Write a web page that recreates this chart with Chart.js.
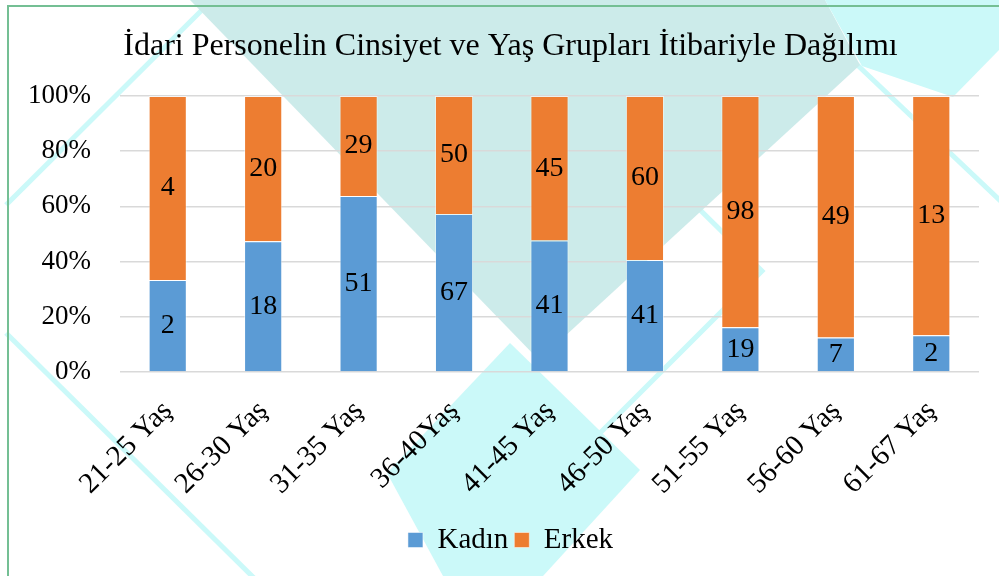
<!DOCTYPE html>
<html><head><meta charset="utf-8">
<script src="https://cdn.jsdelivr.net/npm/chart.js@4"></script>
<style>html,body{margin:0;padding:0;background:#fff}canvas{display:block}</style>
</head><body>
<canvas id="c" width="999" height="576"></canvas>
<script>
const categories = ['21-25 Yaş','26-30 Yaş','31-35 Yaş','36-40Yaş','41-45 Yaş','46-50 Yaş','51-55 Yaş','56-60 Yaş','61-67 Yaş'];
const kadin = [2,18,51,67,41,41,19,7,2];
const erkek = [4,20,29,50,45,60,98,49,13];
const yTicks = [0,20,40,60,80,100];
const seriesNames = ['Kadın','Erkek'];
const titleText = 'İdari Personelin Cinsiyet ve Yaş Grupları İtibariyle Dağılımı';

const FONT = "'Liberation Serif', 'Times New Roman', serif";
const counts = [kadin, erkek];
const pct = counts.map(arr => arr.map((v,i) => v / (kadin[i] + erkek[i]) * 100));

function poly(ctx, pts){ ctx.beginPath(); ctx.moveTo(pts[0][0],pts[0][1]); for(let i=1;i<pts.length;i++) ctx.lineTo(pts[i][0],pts[i][1]); ctx.closePath(); ctx.fill(); }
function seg(ctx, pts){ ctx.beginPath(); ctx.moveTo(pts[0][0],pts[0][1]); for(let i=1;i<pts.length;i++) ctx.lineTo(pts[i][0],pts[i][1]); ctx.stroke(); }

const bgDecor = {
  id:'bgDecor',
  afterLayout(chart){
    // let the y tick labels extend into the left padding without being clipped
    chart.scales.y.left = 0;
  },
  beforeDraw(chart){
    const ctx = chart.ctx;
    const cyan = '#cbf9f9', teal = '#ccebea';
    ctx.save();
    ctx.fillStyle = '#ffffff'; ctx.fillRect(0,0,chart.width,chart.height);
    ctx.strokeStyle = cyan; ctx.lineWidth = 5; ctx.lineCap = 'butt';
    seg(ctx, [[6,205],[210,2]]);
    seg(ctx, [[6,333],[258,582]]);
    seg(ctx, [[690,200],[762,271],[588,445]]);
    seg(ctx, [[850,58],[1010,210]]);
    ctx.fillStyle = cyan;
    poly(ctx, [[387,473],[510,343],[640,470],[543,576],[443,576]]);
    ctx.fillStyle = teal;
    poly(ctx, [[190,0],[825,0],[860,65],[539,360]]);
    ctx.fillStyle = cyan;
    poly(ctx, [[825,0],[999,0],[999,50],[953,97],[862,66]]);
    ctx.strokeStyle = '#74bf94'; ctx.lineWidth = 2;
    seg(ctx, [[8,576],[8,6],[999,6]]);
    ctx.restore();
  }
};

const valueLabels = {
  id:'valueLabels',
  afterDatasetsDraw(chart){
    const ctx = chart.ctx;
    ctx.save();
    ctx.font = '28px ' + FONT;
    ctx.fillStyle = '#000';
    ctx.textAlign = 'center';
    ctx.textBaseline = 'middle';
    chart.data.datasets.forEach((ds, di) => {
      const meta = chart.getDatasetMeta(di);
      meta.data.forEach((el, i) => {
        const y = (el.y + el.base) / 2;
        ctx.fillText(String(counts[di][i]), el.x, y);
      });
    });
    ctx.restore();
  }
};

new Chart(document.getElementById('c'), {
  type:'bar',
  data:{
    labels: categories,
    datasets:[
      {label: seriesNames[0], data: pct[0], backgroundColor:'#5b9bd5', borderColor:'rgba(255,255,255,0.5)', borderWidth:1, categoryPercentage:1, barPercentage:0.4},
      {label: seriesNames[1], data: pct[1], backgroundColor:'#ed7d31', borderColor:'rgba(255,255,255,0.5)', borderWidth:1, categoryPercentage:1, barPercentage:0.4}
    ]
  },
  options:{
    responsive:false,
    animation:false,
    devicePixelRatio:1,
    layout:{padding:{top:27,left:42,right:20,bottom:11.5}},
    plugins:{
      title:{display:true, text:titleText, color:'#000', font:{family:FONT, size:32, weight:'normal'}, padding:{top:0,bottom:30.6}},
      legend:{display:true, position:'bottom', labels:{color:'#000', font:{family:FONT, size:29}, boxWidth:15, boxHeight:15, padding:6}},
      tooltip:{enabled:false}
    },
    scales:{
      x:{
        stacked:true,
        grid:{display:false, drawTicks:false},
        border:{display:false},
        ticks:{color:'#000', font:{family:FONT, size:29}, minRotation:45, maxRotation:45, autoSkip:false, padding:22},
        afterFit(s){ s.height = 147.5; }
      },
      y:{
        stacked:true, min:0, max:100,
        grid:{color:'#d9d9d9', lineWidth:1.5, drawTicks:false},
        border:{display:false},
        afterBuildTicks(s){ s.ticks = yTicks.map(v => ({value:v})); },
        ticks:{color:'#000', font:{family:FONT, size:27}, padding:29, callback:v => v + '%'},
        afterFit(s){ s.width = 78; }
      }
    }
  },
  plugins:[bgDecor, valueLabels]
});
</script>
</body></html>
